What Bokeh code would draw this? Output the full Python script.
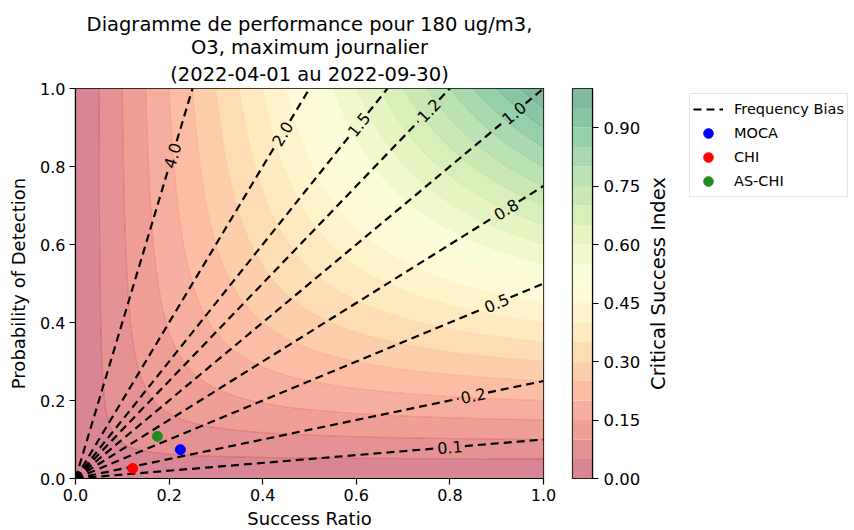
import numpy as np
from bokeh.plotting import figure
from bokeh.models import (Range1d, FixedTicker, PrintfTickFormatter, Legend,
                          LegendItem, Label, Title)
from bokeh.core.properties import value
from bokeh.layouts import row
from bokeh.embed import file_html
from bokeh.resources import INLINE

# ---------------- data ----------------
title_lines = ["Diagramme de performance pour 180 ug/m3,",
               "O3, maximum journalier",
               "(2022-04-01 au 2022-09-30)"]
csi_levels = [round(0.05 * i, 2) for i in range(21)]
bias_values = [0.1, 0.25, 0.5, 0.75, 1.0, 1.25, 1.5, 2.0, 4.0]
bias_labels = ["0.1", "0.2", "0.5", "0.8", "1.0", "1.2", "1.5", "2.0", "4.0"]
bias_label_sr = [0.80, 0.85, 0.90, 0.92, 0.937, 0.755, 0.605, 0.442, 0.207]
models = ["MOCA", "CHI", "AS-CHI"]
model_sr = [0.224, 0.122, 0.175]
model_pod = [0.074, 0.026, 0.108]
model_colors = ["blue", "red", "forestgreen"]
axis_ticks = [0.0, 0.2, 0.4, 0.6, 0.8, 1.0]
cbar_ticks = [0.0, 0.15, 0.30, 0.45, 0.60, 0.75, 0.90]

# ---------------- colours (RdYlGn, alpha 0.5 on white) ----------------
RDYLGN = ["#a50026", "#d73027", "#f46d43", "#fdae61", "#fee08b", "#ffffbf",
          "#d9ef8b", "#a6d96a", "#66bd63", "#1a9850", "#006837"]
nodes = np.array([[int(h[i:i + 2], 16) for i in (1, 3, 5)] for h in RDYLGN], float)


def cmap(t):
    t = min(max(t, 0.0), 1.0) * (len(nodes) - 1)
    i = min(int(t), len(nodes) - 2)
    f = t - i
    return nodes[i] * (1 - f) + nodes[i + 1] * f


def to_hex(c):
    return "#%02x%02x%02x" % tuple(int(round(v)) for v in c)


def blend(c, a=0.5):
    return c * a + 255 * (1 - a)


nb = len(csi_levels) - 1
fill_palette = [to_hex(blend(cmap((i + 0.5) / nb))) for i in range(nb)]
line_palette = [to_hex(cmap(i / nb)) for i in range(nb + 1)]

FONT = "DejaVu Sans"
FW, FH = 468, 390
TOP, BOTTOM = 88, 52

# ---------------- main figure ----------------
p = figure(frame_width=FW, frame_height=FH, min_border_left=75, min_border_right=20,
           min_border_top=TOP, min_border_bottom=BOTTOM,
           x_range=Range1d(0, 1), y_range=Range1d(0, 1),
           output_backend="svg", toolbar_location=None, tools="")
for i, line in enumerate(reversed(title_lines)):
    t = Title(text=line, align="center", text_font=FONT, text_font_size="19.5px",
              text_font_style="normal", text_color="black",
              standoff=6 if i == 0 else -2)
    p.add_layout(t, "above")
p.grid.visible = False
p.outline_line_color = "black"
p.outline_line_width = 1.2
p.outline_line_alpha = 1.0

for ax in (p.xaxis[0], p.yaxis[0]):
    ax.ticker = FixedTicker(ticks=axis_ticks)
    ax.formatter = PrintfTickFormatter(format="%.1f")
    ax.major_label_text_font = FONT
    ax.major_label_text_font_size = "16px"
    ax.major_label_text_color = "black"
    ax.axis_label_text_font = FONT
    ax.axis_label_text_font_size = "18px"
    ax.axis_label_text_font_style = "normal"
    ax.axis_label_text_color = "black"
    ax.major_tick_out = 6
    ax.major_tick_in = 0
    ax.minor_tick_line_color = None
    ax.major_tick_line_width = 1.2
    ax.axis_line_width = 1.2
    ax.major_label_standoff = 4
p.xaxis.axis_label = "Success Ratio"
p.yaxis.axis_label = "Probability of Detection"
p.xaxis.axis_label_standoff = 4
p.yaxis.axis_label_standoff = 8

# CSI background
grid = np.linspace(0, 1, 401)
SRg, PODg = np.meshgrid(grid, grid)
with np.errstate(divide="ignore", invalid="ignore"):
    csi = 1.0 / (1.0 / SRg + 1.0 / PODg - 1.0)
csi = np.clip(np.nan_to_num(csi, nan=0.0), 1e-9, 1 - 1e-9)
p.contour(grid, grid, csi, levels=csi_levels, fill_color=fill_palette,
          line_color=line_palette, line_width=0.8, line_alpha=0.5)

# frequency bias lines with inline labels
xs, ys = [], []
half_gap = 15.0
for b, lab, lsr in zip(bias_values, bias_labels, bias_label_sr):
    end_x = 1.0 if b <= 1 else 1.0 / b
    ang = np.arctan2(b * FH, FW)
    dx = half_gap * np.cos(ang) / FW
    xs.append([0.0, lsr - dx]); ys.append([0.0, b * (lsr - dx)])
    xs.append([lsr + dx, end_x]); ys.append([b * (lsr + dx), b * end_x])
    p.text(x=[lsr], y=[b * lsr], text=[lab], angle=float(ang),
           text_font=value(FONT), text_font_size=value("16px"),
           text_align="center", text_baseline="middle", text_color="black")
p.multi_line(xs, ys, line_color="black", line_width=2.2, line_dash="8 5")

for m, sx, sy, c in zip(models, model_sr, model_pod, model_colors):
    p.scatter([sx], [sy], size=10, fill_color=c, line_color=c)

# ---------------- colour bar figure ----------------
cb = figure(frame_width=20, frame_height=FH, min_border_left=9, min_border_right=55,
            min_border_top=TOP, min_border_bottom=BOTTOM,
            x_range=Range1d(0, 1), y_range=Range1d(0, 1),
            x_axis_location=None, y_axis_location="right",
            output_backend="svg", toolbar_location=None, tools="")
cb.grid.visible = False
cb.outline_line_color = "black"
cb.outline_line_width = 1.2
cb.quad(left=0, right=1, bottom=csi_levels[:-1], top=csi_levels[1:],
        fill_color=fill_palette, line_color=None)
ay = cb.yaxis[0]
ay.ticker = FixedTicker(ticks=cbar_ticks)
ay.formatter = PrintfTickFormatter(format="%.2f")
ay.major_label_text_font = FONT
ay.major_label_text_font_size = "16.5px"
ay.major_label_text_color = "black"
ay.major_tick_out = 6
ay.major_tick_in = 0
ay.minor_tick_line_color = None
ay.major_tick_line_width = 1.2
ay.axis_line_width = 1.2
ay.major_label_standoff = 5

# ---------------- label + legend figure (pixel-like ranges) ----------------
LW = 207
X0 = 10  # range offset: keeps the proxy markers (values < 1) out of view
lg = figure(frame_width=LW, frame_height=FH, min_border_left=0, min_border_right=0,
            min_border_top=TOP, min_border_bottom=BOTTOM,
            x_range=Range1d(X0, X0 + LW), y_range=Range1d(X0, X0 + FH),
            x_axis_location=None, y_axis_location=None,
            output_backend="svg", toolbar_location=None, tools="")
lg.grid.visible = False
lg.outline_line_color = None
lg.add_layout(Label(x=X0 + 11, y=X0 + FH / 2, text="Critical Success Index",
                    angle=np.pi / 2, text_align="center", text_baseline="middle",
                    text_font=FONT, text_font_size="19.5px", text_color="black"))

r_bias = lg.multi_line([[]], [[]], line_color="black", line_width=2.2, line_dash="8 5")
items = [LegendItem(label="Frequency Bias", renderers=[r_bias])]
for m, sx, sy, c in zip(models, model_sr, model_pod, model_colors):
    r = lg.scatter([sx], [sy], size=10, fill_color=c, line_color=c)
    items.append(LegendItem(label=m, renderers=[r]))
leg = Legend(items=items, location=(42, FH - 7 - 102), margin=0, padding=3, spacing=0,
             glyph_width=30, glyph_height=24, label_height=23, label_standoff=11,
             label_text_font=FONT, label_text_font_size="14.5px",
             label_text_color="black",
             border_line_color="#cccccc", border_line_width=1,
             background_fill_alpha=0.8)
lg.add_layout(leg)

layout = row(p, cb, lg)
open("out.html", "w").write(file_html(layout, INLINE))
